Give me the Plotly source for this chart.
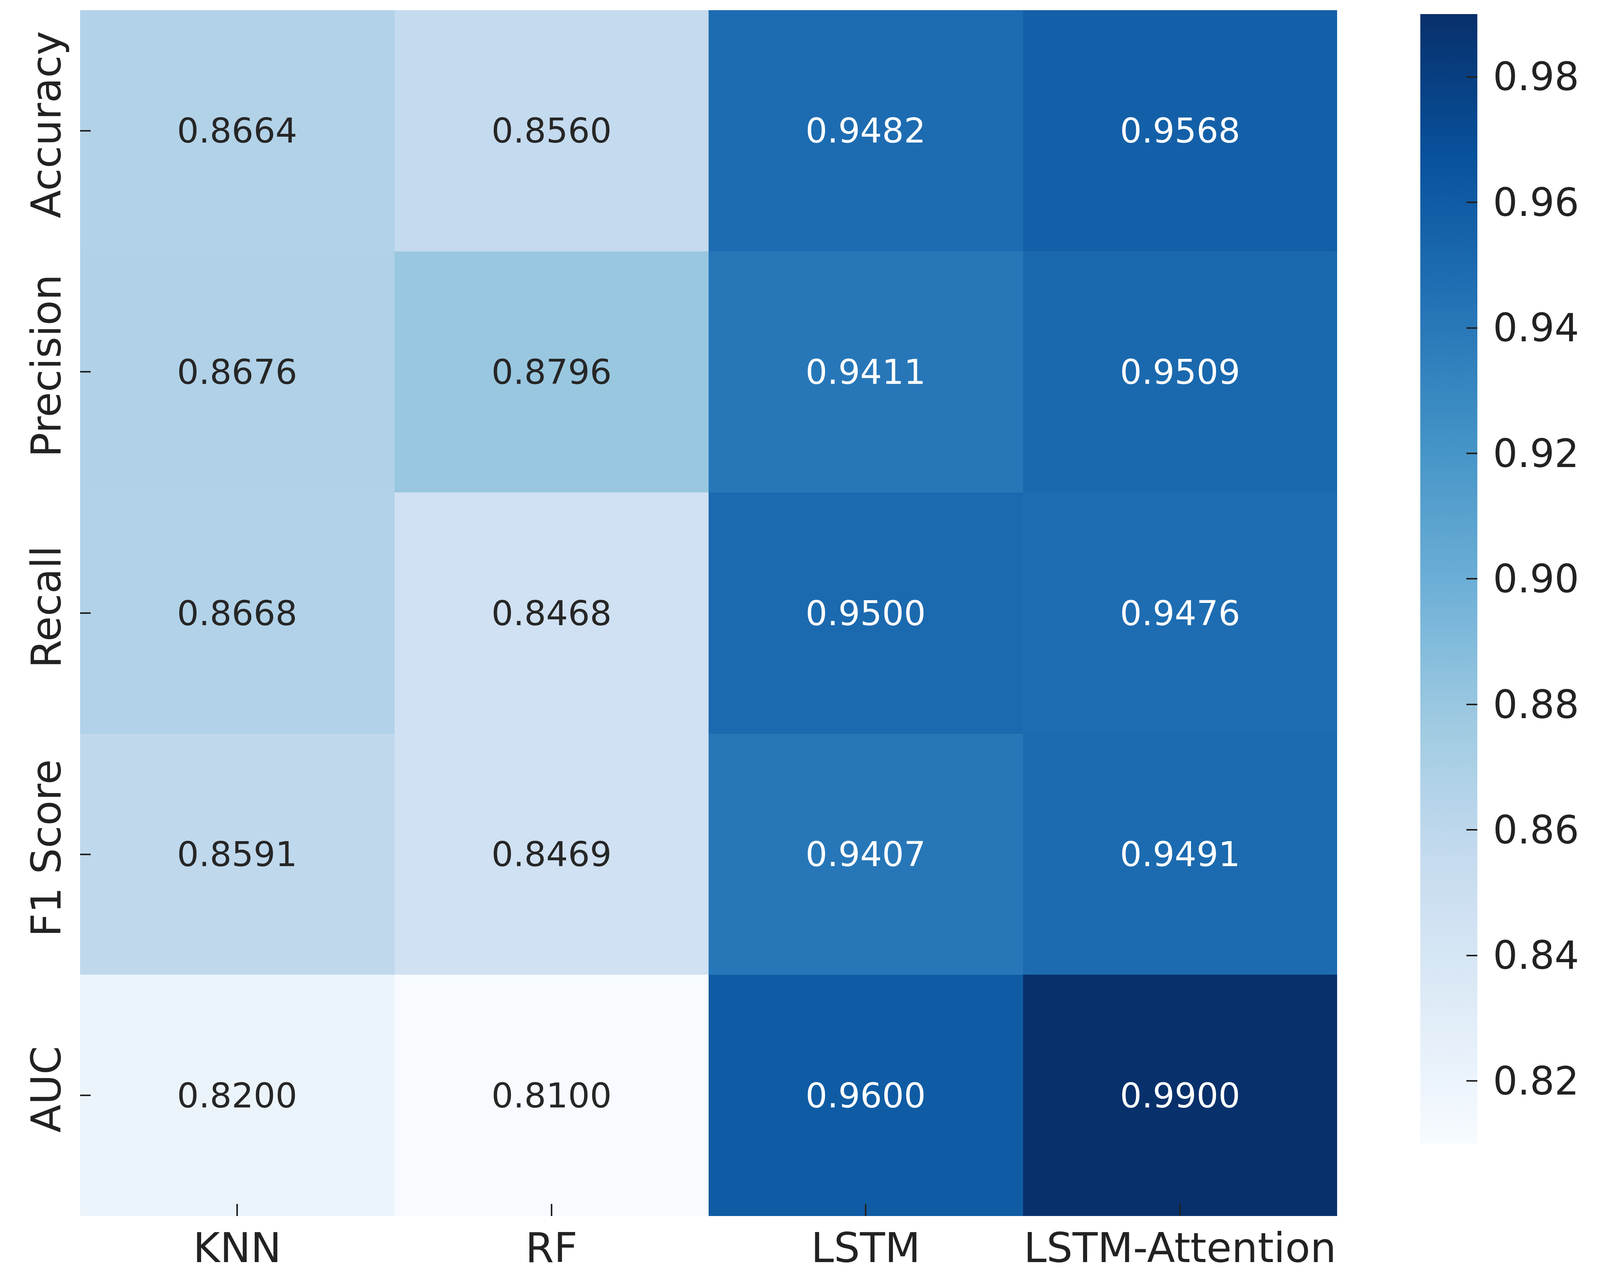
import plotly.graph_objects as go
import plotly.express as px

# Model comparison metrics (rows = metric, columns = model)
models = ["KNN", "RF", "LSTM", "LSTM-Attention"]
metrics = ["Accuracy", "Precision", "Recall", "F1 Score", "AUC"]

accuracy = [0.8664, 0.8560, 0.9482, 0.9568]
precision = [0.8676, 0.8796, 0.9411, 0.9509]
recall = [0.8668, 0.8468, 0.9500, 0.9476]
f1_score = [0.8591, 0.8469, 0.9407, 0.9491]
auc = [0.8200, 0.8100, 0.9600, 0.9900]

cbar_ticks = [0.82, 0.84, 0.86, 0.88, 0.90, 0.92, 0.94, 0.96, 0.98]

z = [accuracy, precision, recall, f1_score, auc]
zmin = min(min(r) for r in z)
zmax = max(max(r) for r in z)

FONT = "DejaVu Sans"
TXT = "#222222"

fig = go.Figure()

fig.add_trace(go.Heatmap(
    z=z,
    x=models,
    y=metrics,
    zmin=zmin,
    zmax=zmax,
    colorscale=px.colors.sequential.Blues,
    hovertemplate="%{y} / %{x}: %{z:.4f}<extra></extra>",
    colorbar=dict(
        xref="container", x=0.8868, xanchor="left",
        yref="container", y=0.9942, yanchor="top",
        lenmode="fraction", len=0.9434,
        thickness=146,
        outlinewidth=0,
        tickvals=cbar_ticks,
        # thin space keeps the labels a little off the bar
        ticktext=["\u2009" + f"{v:.2f}" for v in cbar_ticks],
        ticks="inside", ticklen=28, tickwidth=4, tickcolor=TXT,
        tickfont=dict(family=FONT, size=99, color=TXT),
    ),
))

# cell annotations: light text on dark cells, dark text on light cells
threshold = zmin + 0.5 * (zmax - zmin)
for i, metric in enumerate(metrics):
    for j, model in enumerate(models):
        v = z[i][j]
        fig.add_annotation(
            x=model, y=metric,
            text=f"{v:.4f}",
            showarrow=False,
            font=dict(family=FONT, size=88,
                      color="white" if v > threshold else "#262626"),
        )

fig.update_xaxes(
    ticks="inside", ticklen=31, tickwidth=4, tickcolor=TXT,
    tickfont=dict(family=FONT, size=105, color=TXT),
    ticklabelstandoff=12,
    showgrid=False, zeroline=False, showline=False,
)
fig.update_yaxes(
    autorange="reversed",
    ticks="inside", ticklen=27, tickwidth=4, tickcolor=TXT,
    tickangle=-90,
    tickfont=dict(family=FONT, size=105, color=TXT),
    ticklabelstandoff=28,
    showgrid=False, zeroline=False, showline=False,
)

fig.update_layout(
    autosize=True,
    margin=dict(l=197, r=665, t=18, b=161),
    paper_bgcolor="white",
    plot_bgcolor="white",
    showlegend=False,
)

# fill the browser window (body keeps its 8px margin)
fig.write_html("out.html", default_width="100%",
               default_height="calc(100vh - 16px)")
